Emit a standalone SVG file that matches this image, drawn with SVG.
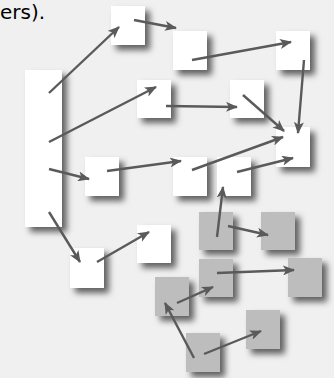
<svg xmlns="http://www.w3.org/2000/svg" width="334" height="378" viewBox="0 0 334 378">
<style>
.w{fill:#ffffff;filter:url(#sh)}
.g{fill:#bdbdbd;filter:url(#sh)}
.c line{stroke:#5a5a5a;stroke-width:2.4;marker-end:url(#ah)}
text{font-family:"DejaVu Sans",sans-serif;font-size:20px;fill:#000}
</style>
<defs>
<filter id="sh" x="-40%" y="-40%" width="190%" height="190%">
<feDropShadow dx="5" dy="5" stdDeviation="3.3" flood-color="#000" flood-opacity="0.6"/>
</filter>
<marker id="ah" viewBox="0 0 12 10" refX="11" refY="5" markerWidth="12" markerHeight="10" markerUnits="userSpaceOnUse" orient="auto">
<path d="M0,0 L12,5 L0,10 L3,5 Z" fill="#5a5a5a"/>
</marker>
</defs>
<rect width="334" height="378" fill="#f0f0f0"/>
<text x="0" y="19">ers).</text>
<g id="tall"><rect class="w" x="25" y="70" width="37" height="157"/></g>
<g id="A"><rect class="w" x="111" y="6" width="34" height="39"/></g>
<g id="B"><rect class="w" x="137" y="80" width="34" height="38"/></g>
<g id="C"><rect class="w" x="173" y="31" width="34" height="39"/></g>
<g id="D"><rect class="w" x="276" y="31" width="34" height="39"/></g>
<g id="E"><rect class="w" x="230" y="80" width="34" height="38"/></g>
<g id="F"><rect class="w" x="276" y="127" width="34" height="40"/></g>
<g id="G"><rect class="w" x="85" y="157" width="34" height="39"/></g>
<g id="H"><rect class="w" x="173" y="157" width="34" height="39"/></g>
<g id="I"><rect class="w" x="217" y="157" width="34" height="39"/></g>
<g id="J"><rect class="w" x="70" y="248" width="34" height="40"/></g>
<g id="K"><rect class="w" x="137" y="225" width="34" height="38"/></g>
<g id="g1"><rect class="g" x="199" y="212" width="34" height="38"/></g>
<g id="g2"><rect class="g" x="261" y="212" width="34" height="38"/></g>
<g id="g3"><rect class="g" x="199" y="259" width="34" height="38"/></g>
<g id="g4"><rect class="g" x="288" y="258" width="34" height="39"/></g>
<g id="g5"><rect class="g" x="155" y="277" width="34" height="39"/></g>
<g id="g6"><rect class="g" x="246" y="310" width="34" height="39"/></g>
<g id="g7"><rect class="g" x="186" y="333" width="34" height="39"/></g>
<g id="connectors" class="c">
<line x1="49" y1="93" x2="119" y2="27"/>
<line x1="49" y1="142" x2="156" y2="87"/>
<line x1="49" y1="169" x2="89" y2="179"/>
<line x1="49" y1="212" x2="80" y2="262"/>
<line x1="97" y1="262" x2="149" y2="232"/>
<line x1="107" y1="171" x2="181" y2="161"/>
<line x1="192" y1="170" x2="283" y2="137"/>
<line x1="237" y1="172" x2="293" y2="158"/>
<line x1="217" y1="237" x2="223" y2="187"/>
<line x1="228" y1="226" x2="268" y2="235"/>
<line x1="134" y1="20" x2="176" y2="28"/>
<line x1="192" y1="60" x2="291" y2="42"/>
<line x1="304" y1="60" x2="298" y2="133"/>
<line x1="166" y1="106" x2="237" y2="107"/>
<line x1="243" y1="95" x2="284" y2="131"/>
<line x1="217" y1="273" x2="294" y2="270"/>
<line x1="177" y1="303" x2="213" y2="287"/>
<line x1="194" y1="358" x2="165" y2="303"/>
<line x1="204" y1="354" x2="261" y2="331"/>
</g>
</svg>
